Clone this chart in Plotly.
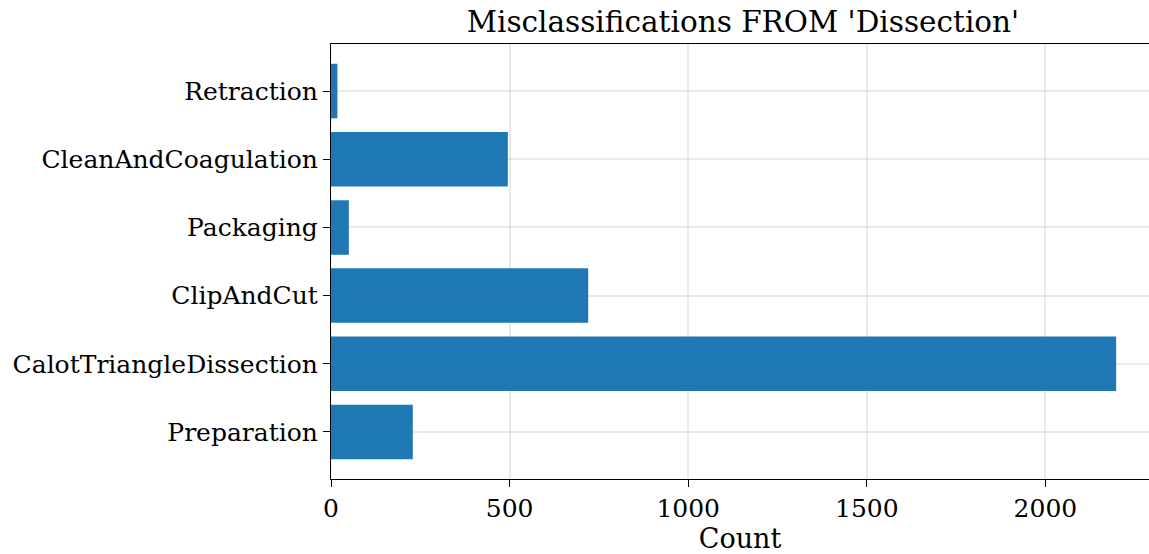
import plotly.graph_objects as go

categories = ["Preparation", "CalotTriangleDissection", "ClipAndCut",
              "Packaging", "CleanAndCoagulation", "Retraction"]
counts = [229, 2198, 720, 50, 495, 18]
x_ticks = [0, 500, 1000, 1500, 2000]

FONT = "DejaVu Serif"
grid_col = "rgba(128,128,128,0.17)"

fig = go.Figure(go.Bar(
    y=list(range(len(categories))), x=counts, orientation="h",
    width=0.8, marker=dict(color="#1f77b4", line=dict(width=0)),
))

fig.update_layout(
    width=1149, height=554,
    margin=dict(l=331, r=0, t=44, b=75),
    paper_bgcolor="white", plot_bgcolor="white",
    font=dict(family=FONT, size=25, color="black"),
    title=dict(text="Misclassifications FROM 'Dissection'", x=(331 + 1155) / 2 / 1149,
               xanchor="center", y=1 - 22 / 554, yanchor="middle",
               font=dict(family=FONT, size=29.5, color="black")),
    showlegend=False,
)
fig.update_xaxes(
    range=[0, 2290], tickvals=x_ticks, ticktext=[str(v) for v in x_ticks],
    ticks="outside", ticklen=7, tickwidth=1.3, tickcolor="black",
    showline=True, linecolor="black", linewidth=1.3, mirror=True,
    showgrid=True, gridcolor=grid_col, gridwidth=1.5, zeroline=False,
    layer="above traces",
    title=dict(text="Count", font=dict(family=FONT, size=27), standoff=4),
    tickfont=dict(family=FONT, size=25),
)
fig.update_yaxes(
    range=[-0.69, 5.69], tickvals=list(range(len(categories))), ticktext=categories,
    ticks="outside", ticklen=7, tickwidth=1.3, tickcolor="black",
    showline=True, linecolor="black", linewidth=1.3,
    showgrid=True, gridcolor=grid_col, gridwidth=1.5, zeroline=False,
    layer="above traces",
    tickfont=dict(family=FONT, size=25),
)

fig.write_html("out.html", config={"displayModeBar": False},
               post_script="document.body.style.margin='0';")
